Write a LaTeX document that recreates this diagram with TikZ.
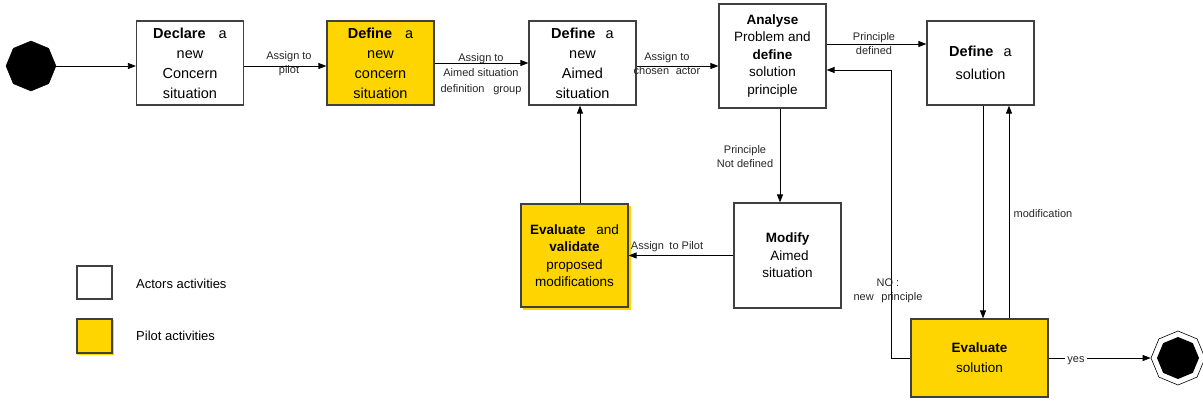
\documentclass[tikz,border=0pt]{standalone}
\usepackage{fontspec}
\setmainfont{Liberation Sans}
\usetikzlibrary{arrows.meta,shapes.geometric,calc}
\definecolor{gold}{RGB}{255,213,0}
\definecolor{edge}{RGB}{64,64,64}
\tikzset{
  box/.style={draw=edge, line width=1.2pt, inner sep=0pt, align=center, minimum width=107pt, minimum height=84pt},
  pilotbox/.style={box, fill=gold},
  big/.style={font=\fontsize{14.5}{20}\selectfont},
  mid/.style={font=\fontsize{13.5}{17.5}\selectfont},
  lbl/.style={font=\fontsize{11}{14}\selectfont, align=center, inner sep=0pt, text=black!85},
  arr/.style={-{Triangle[length=8pt,width=6pt]}, line width=0.8pt},
  octa/.style={regular polygon, regular polygon sides=8, shape border rotate=22.5, inner sep=0pt},
}
\begin{document}
\begin{tikzpicture}[x=1pt,y=-1pt]
\useasboundingbox (0,0) rectangle (1203,401);
% start
\node[octa, fill=black, draw=black, minimum size=50pt] (start) at (31,66) {};
% boxes
\node[box, big] (declare) at (190,63) {\textbf{Declare}\hspace{0.9em}a\\new\\Concern\\situation};
\node[pilotbox, big] (concern) at (380.5,63) {\textbf{Define}\hspace{0.9em}a\\new\\concern\\situation};
\node[box, big] (aimed) at (582.5,63) {\textbf{Define}\hspace{0.7em}a\\new\\Aimed\\situation};
\node[box, mid, minimum height=104pt] (analyse) at (772.5,56) {\textbf{Analyse}\\Problem and\\\textbf{define}\\solution\\principle};
\node[box, big] (solution) at (980.5,63) {\textbf{Define}\hspace{0.7em}a\\[3pt]solution};
\node[box, mid, minimum height=105pt] (modify) at (787.5,255.5) {\textbf{Modify}\\\hspace{4pt}Aimed\\situation};
\fill[gold] (523,206) rectangle (631,310);
\node[pilotbox, mid, minimum height=103pt] (evalval) at (574.5,255.5) {\textbf{Evaluate}\hspace{0.8em}and\\\textbf{validate}\\proposed\\modifications};
\node[pilotbox, mid, minimum width=137pt, minimum height=78pt, font=\fontsize{13.5}{20}\selectfont] (evalsol) at (979.5,358) {\textbf{Evaluate}\\solution};
% end
\node[octa, draw=black, line width=0.6pt, minimum size=54pt] (end) at (1178,358) {};
\node[octa, fill=black, minimum size=42pt] (endin) at (1178,358) {};
% legend
\node[box, minimum width=35pt, minimum height=33pt] (legA) at (94.5,282.5) {};
\fill[gold] (77,320) rectangle (114,355);
\node[pilotbox, minimum width=35pt, minimum height=34pt] (legP) at (94.5,336) {};
\node[anchor=west, inner sep=0pt, font=\fontsize{13}{15}\selectfont] (legAt) at (136,284) {Actors activities};
\node[anchor=west, inner sep=0pt, font=\fontsize{13}{15}\selectfont] (legPt) at (136,336) {Pilot activities};
% helper coordinates
\coordinate (y44) at (0,44);
\coordinate (nox) at (891,70);
\coordinate (dnx) at (983,0);
\coordinate (upx) at (1009,0);
\coordinate (mx) at (780,0);
\coordinate (vx) at (580,0);
% connectors
\draw[arr] (start) -- (declare.west |- start);
\draw[arr] (declare.east |- start) -- (concern.west |- start);
\draw[arr] (concern.east) -- (aimed.west);
\draw[arr] (aimed.east |- start) -- (analyse.west |- start);
\draw[arr] (analyse.east |- y44) -- (solution.west |- y44);
\draw[arr] (evalsol.west) -| (nox) -- (analyse.east |- nox);
\draw[arr] (solution.south -| dnx) -- (evalsol.north -| dnx);
\draw[arr] (evalsol.north -| upx) -- (solution.south -| upx);
\draw[arr] (evalsol.east) -- (end.west |- evalsol.east);
\draw[arr] (analyse.south -| mx) -- (modify.north -| mx);
\draw[arr] (modify.west) -- (evalval.east);
\draw[arr] (evalval.north -| vx) -- (aimed.south -| vx);
% labels
\node[lbl] (l1) at (289,64) {Assign to\\pilot};
\node[lbl, font=\fontsize{11}{15.5}\selectfont] (l2) at (481,74) {Assign to\\Aimed situation\\definition\hspace{0.8em}group};
\node[lbl] (l3) at (667,64) {Assign to\\chosen\hspace{0.6em}actor};
\node[lbl] (l4) at (874,44) {Principle\\defined};
\node[lbl] (l5) at (745,157) {Principle\\Not defined};
\node[lbl] (l6) at (667,247) {Assign\hspace{0.5em}to Pilot};
\node[lbl] (l7) at (888,291) {NO :\\new\hspace{0.7em}principle};
\node[lbl] (l8) at (1043,214) {modification};
\node[lbl, fill=white, inner sep=2pt] (l9) at (1076,361) {yes};
\end{tikzpicture}
\end{document}
